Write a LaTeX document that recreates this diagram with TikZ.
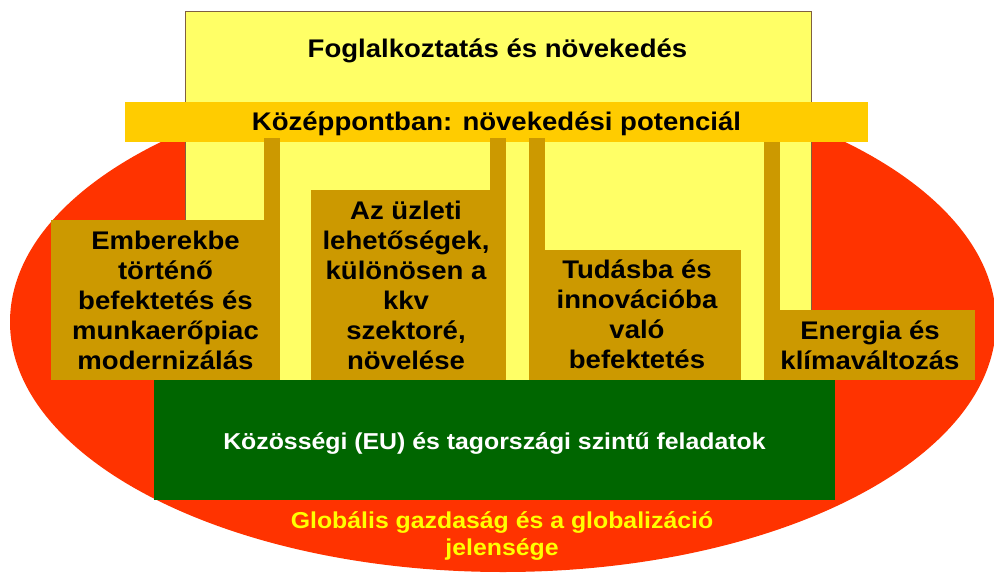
\documentclass[tikz,border=0pt]{standalone}
\usepackage{fontspec}
\setmainfont{Liberation Sans}[FakeStretch=1.08]
\usetikzlibrary{shapes.geometric}
\definecolor{redc}{HTML}{FF3300}
\definecolor{yellowc}{HTML}{FFFF66}
\definecolor{orangec}{HTML}{FFCC00}
\definecolor{brownc}{HTML}{CC9900}
\definecolor{greenc}{HTML}{006600}
\definecolor{edgec}{HTML}{806040}
\definecolor{textyc}{HTML}{FFFF00}
\tikzset{
  boxfill/.style={rectangle, inner sep=0pt, outer sep=0pt},
  brownbox/.style={boxfill, fill=brownc},
  conn/.style={draw=brownc, line width=16pt},
  bigtext/.style={inner sep=0pt, anchor=base, font=\fontsize{25.5}{30}\selectfont\bfseries},
  smalltext/.style={inner sep=0pt, anchor=base, font=\fontsize{23}{27}\selectfont\bfseries},
}
\newcommand{\lines}[1]{\begin{tabular}[t]{@{}c@{}}#1\end{tabular}}
\begin{document}
\begin{tikzpicture}[x=1pt,y=-1pt]
\useasboundingbox (0,0) rectangle (994,573);
% global ellipse
\node[ellipse, fill=redc, inner sep=0pt, minimum width=986pt, minimum height=500pt] (glob) at (503,322) {};
% yellow goal box
\node[boxfill, fill=yellowc, draw=edgec, line width=0.8pt, minimum width=626pt, minimum height=369pt] (goal) at (498,195.5) {};
\node[bigtext] (title) at (497.5,57.7) {Foglalkoztatás és növekedés};
% orange bar
\node[boxfill, fill=orangec, minimum width=743pt, minimum height=40pt, text height=19.7pt, text depth=2.3pt, font=\fontsize{25.5}{30}\selectfont\bfseries] (bar) at (496.5,122) {Középpontban: növekedési potenciál};
% brown boxes
\node[brownbox, minimum width=229pt, minimum height=160pt] (b1) at (165.5,300) {};
\node[brownbox, minimum width=195pt, minimum height=190pt] (b2) at (408.5,285) {};
\node[brownbox, minimum width=212pt, minimum height=130pt] (b3) at (635,315) {};
\node[brownbox, minimum width=211pt, minimum height=70pt] (b4) at (869.5,345) {};
% connectors
\draw[conn] ([xshift=-8pt]b1.north east) -- ([xshift=-8pt,yshift=4pt]b1.north east |- bar.south);
\draw[conn] ([xshift=-8pt]b2.north east) -- ([xshift=-8pt,yshift=4pt]b2.north east |- bar.south);
\draw[conn] ([xshift=8pt]b3.north west) -- ([xshift=8pt,yshift=4pt]b3.north west |- bar.south);
\draw[conn] ([xshift=8pt]b4.north west) -- ([xshift=8pt]b4.north west |- bar.south);
% box texts
\node[bigtext] (t1) at (165.5,249) {\lines{Emberekbe\\történő\\befektetés és\\munkaerőpiac\\modernizálás}};
\node[bigtext] (t2) at (406,219) {\lines{Az üzleti\\lehetőségek,\\különösen a\\kkv\\szektoré,\\növelése}};
\node[bigtext] (t3) at (637,278) {\lines{Tudásba és\\innovációba\\való\\befektetés}};
\node[bigtext] (t4) at (870,339) {\lines{Energia és\\klímaváltozás}};
% green box
\node[boxfill, fill=greenc, text=white, minimum width=681pt, minimum height=120pt, text height=20pt, text depth=2pt, font=\fontsize{23}{27}\selectfont\bfseries] (eu) at (494.5,440) {Közösségi (EU) és tagországi szintű feladatok};
% bottom text
\node[smalltext, text=textyc] (globtext) at (502,528) {\lines{Globális gazdaság és a globalizáció\\jelensége}};
\end{tikzpicture}
\end{document}
